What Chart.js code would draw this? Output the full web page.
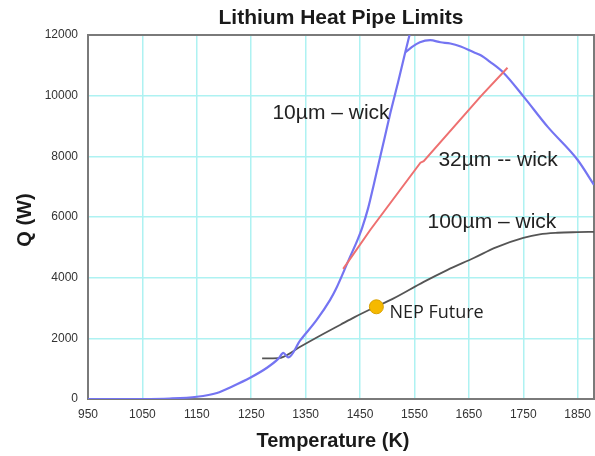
<!DOCTYPE html>
<html>
<head>
<meta charset="utf-8">
<script src="https://cdn.jsdelivr.net/npm/chart.js@4/dist/chart.umd.min.js"></script>
<style>
  html, body { margin: 0; padding: 0; background: #fff; }
  #wrap { width: 595px; height: 456px; }
</style>
</head>
<body>
<div id="wrap"><canvas id="chart" width="595" height="456"></canvas></div>
<script>
// temperature (K) / heat load (W)
const wick10RiseT = [950, 1050, 1100, 1150, 1187, 1217, 1248, 1279, 1300, 1309, 1318, 1340, 1370, 1395, 1405, 1430, 1445, 1454, 1465, 1475, 1484, 1495, 1506, 1520, 1533, 1541]
const wick10RiseQ = [0, 0, 15, 75, 200, 430, 700, 1030, 1330, 1520, 1370, 1930, 2600, 3270, 3600, 4620, 5230, 5650, 6300, 7050, 7750, 8600, 9450, 10450, 11420, 12000]
const wick10CapT = [1533, 1545, 1560, 1579, 1598, 1616, 1635, 1659, 1671, 1690, 1714, 1751, 1795, 1850, 1880]
const wick10CapQ = [11420, 11600, 11760, 11830, 11760, 11720, 11620, 11430, 11340, 11100, 10750, 9960, 8970, 7880, 7060]
const wick32T = [1419, 1469, 1561, 1567, 1673, 1721]
const wick32Q = [4290, 5580, 7790, 7840, 10000, 10920]
const wick100T = [1270, 1300, 1309, 1340, 1383, 1414, 1440, 1474, 1510, 1567, 1610, 1659, 1700, 1750, 1780, 1813, 1850, 1880]
const wick100Q = [1340, 1350, 1390, 1720, 2150, 2450, 2700, 3000, 3300, 3860, 4250, 4650, 5000, 5310, 5430, 5480, 5500, 5510]
const nepT = [1480]
const nepQ = [3040]

const xTicks = [950, 1050, 1150, 1250, 1350, 1450, 1550, 1650, 1750, 1850]
const yTicks = [0, 2000, 4000, 6000, 8000, 10000, 12000]

const labels = [
  { text: "10µm – wick", t: 1289, q: 9430, font: "21px 'Liberation Sans', Arial, sans-serif" },
  { text: "32µm -- wick", t: 1594, q: 7880, font: "21px 'Liberation Sans', Arial, sans-serif" },
  { text: "100µm – wick", t: 1574, q: 5840, font: "21px 'Liberation Sans', Arial, sans-serif" },
  { text: "NEP Future", t: 1504, q: 2835, font: "18px 'Open Sans', sans-serif" }
]

const toPoints = (xs, ys) => xs.map((x, i) => ({ x: x, y: ys[i] }))

const blueData = toPoints(wick10RiseT, wick10RiseQ)
  .concat([{ x: 1537, y: null }])
  .concat(toPoints(wick10CapT, wick10CapQ))

const textPlugin = {
  id: "texts",
  beforeDatasetsDraw(chart) {
    const { ctx, chartArea: a } = chart
    ctx.save()
    ctx.strokeStyle = "#7a7a7a"
    ctx.lineWidth = 2
    ctx.strokeRect(a.left, a.top, a.right - a.left, a.bottom - a.top)
    ctx.restore()
  },
  afterDraw(chart) {
    const { ctx, scales } = chart
    ctx.save()
    ctx.fillStyle = "#1a1a1a"
    ctx.textBaseline = "middle"
    ctx.textAlign = "center"
    ctx.font = "bold 21px 'Liberation Sans', Arial, sans-serif"
    ctx.fillText("Lithium Heat Pipe Limits", 341, 18)
    ctx.font = "bold 20px 'Liberation Sans', Arial, sans-serif"
    ctx.fillText("Temperature (K)", 333, 441)
    ctx.save()
    ctx.translate(25, 220)
    ctx.rotate(-Math.PI / 2)
    ctx.fillText("Q (W)", 0, 0)
    ctx.restore()

    ctx.textAlign = "left"
    ctx.fillStyle = "#222"
    labels.forEach(l => {
      ctx.font = l.font
      ctx.fillText(l.text, scales.x.getPixelForValue(l.t), scales.y.getPixelForValue(l.q))
    })
    ctx.restore()
  }
}

const tickFont = { family: "'Liberation Sans', Arial, sans-serif", size: 12 }

new Chart(document.getElementById("chart"), {
  type: "line",
  data: {
    datasets: [
      {
        label: "100µm – wick",
        data: toPoints(wick100T, wick100Q),
        borderColor: "#555",
        borderWidth: 1.8,
        pointRadius: 0,
        cubicInterpolationMode: "monotone",
        order: 3
      },
      {
        label: "10µm – wick",
        data: blueData,
        borderColor: "#7474f2",
        borderWidth: 2.2,
        pointRadius: 0,
        spanGaps: false,
        cubicInterpolationMode: "monotone",
        order: 2
      },
      {
        label: "32µm -- wick",
        data: toPoints(wick32T, wick32Q),
        borderColor: "#ee7070",
        borderWidth: 2,
        pointRadius: 0,
        tension: 0,
        order: 1
      },
      {
        label: "NEP Future",
        data: toPoints(nepT, nepQ),
        showLine: false,
        pointRadius: 7,
        pointBackgroundColor: "#f6b900",
        pointBorderColor: "#d9a100",
        pointBorderWidth: 1,
        order: 0
      }
    ]
  },
  options: {
    responsive: false,
    animation: false,
    events: [],
    layout: { autoPadding: false, padding: { top: 35, right: 1, left: 0, bottom: 0 } },
    plugins: {
      legend: { display: false },
      title: { display: false },
      tooltip: { enabled: false }
    },
    scales: {
      x: {
        type: "linear",
        min: 950,
        max: 1880,
        afterBuildTicks: (scale) => {
          scale.ticks = xTicks.map(v => ({ value: v }))
        },
        afterFit: (scale) => {
          scale.height = 57
          scale.paddingLeft = 0
          scale.paddingRight = 0
        },
        grid: { color: "#aef2f2", lineWidth: 1.5, drawTicks: false },
        border: { display: false },
        ticks: { color: "#333", font: tickFont, padding: 8, maxRotation: 0, autoSkip: false, callback: (v) => String(v) }
      },
      y: {
        min: 0,
        max: 12000,
        afterBuildTicks: (scale) => {
          scale.ticks = yTicks.map(v => ({ value: v }))
        },
        afterFit: (scale) => {
          scale.width = 88
          scale.paddingTop = 0
          scale.paddingBottom = 0
        },
        grid: { color: "#aef2f2", lineWidth: 1.5, drawTicks: false },
        border: { display: false },
        ticks: { color: "#333", font: tickFont, padding: 10, callback: (v) => String(v) }
      }
    }
  },
  plugins: [textPlugin]
})
</script>
</body>
</html>
